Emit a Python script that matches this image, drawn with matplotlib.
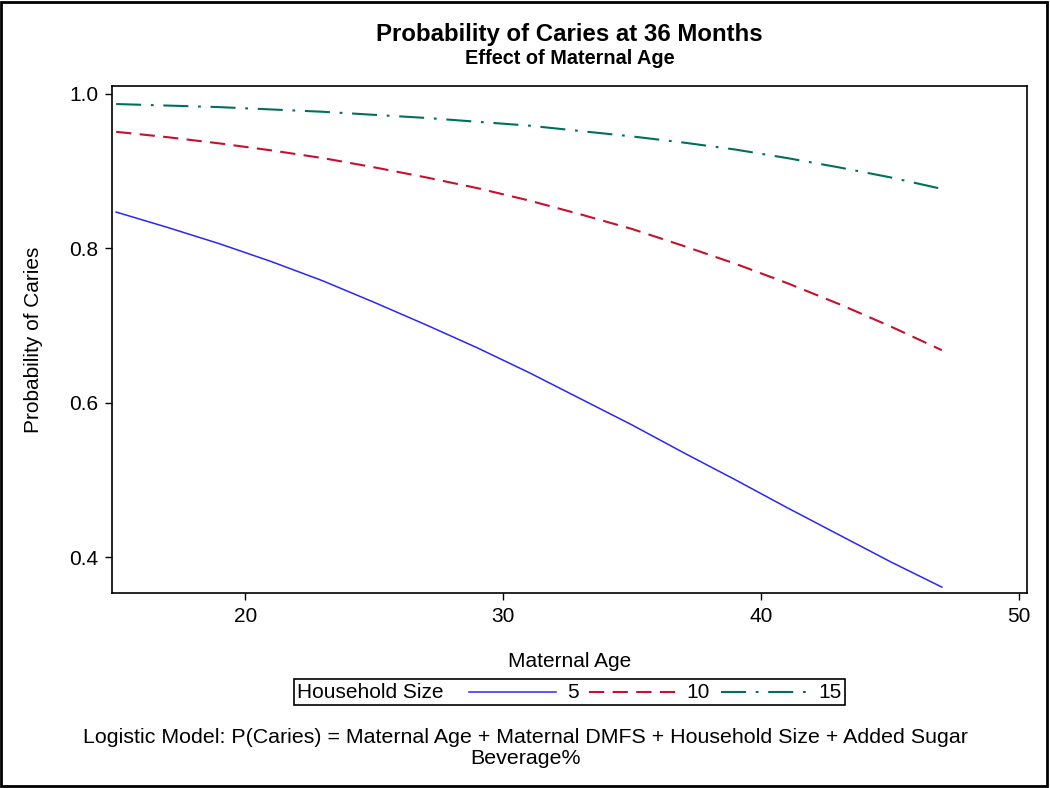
import matplotlib
matplotlib.use("Agg")
import matplotlib.pyplot as plt
from matplotlib.lines import Line2D
from matplotlib.patches import Rectangle
from matplotlib.offsetbox import (AnchoredOffsetbox, DrawingArea, HPacker,
                                  TextArea)

# values
ages = [15, 17, 19, 21, 23, 25, 27, 29, 31, 33, 35, 37, 39, 41, 43, 45, 47]
p_size5 = [0.847, 0.827, 0.806, 0.783, 0.758, 0.730, 0.701, 0.671, 0.639,
           0.605, 0.571, 0.535, 0.500, 0.464, 0.429, 0.394, 0.361]
p_size10 = [0.951, 0.944, 0.936, 0.927, 0.917, 0.905, 0.892, 0.878, 0.862,
            0.844, 0.825, 0.803, 0.780, 0.755, 0.728, 0.699, 0.668]
p_size15 = [0.987, 0.985, 0.983, 0.980, 0.977, 0.973, 0.969, 0.964, 0.959,
            0.952, 0.945, 0.937, 0.928, 0.917, 0.905, 0.892, 0.877]
size_labels = ["5", "10", "15"]
x_ticks = [20, 30, 40, 50]
y_ticks = [0.4, 0.6, 0.8, 1.0]

plt.rcParams['font.family'] = ['Liberation Sans', 'DejaVu Sans']
plt.rcParams['lines.scale_dashes'] = False

fs = 15

fig = plt.figure(figsize=(10.5, 7.88), dpi=100)
ax = fig.add_axes([0.1067, 0.2478, 0.8714, 0.6431])

styles = [
    dict(color='#2a25ff', lw=1.1, ls='-'),
    dict(color='#c8102e', lw=1.5, ls=(0, (11, 6))),
    dict(color='#00705e', lw=1.5, ls=(0, (18, 7, 2, 7))),
]
series = [p_size5, p_size10, p_size15]
for vals, st in zip(series, styles):
    ax.plot(ages, vals, **st)

ax.set_xlim(14.84, 50.3)
ax.set_ylim(0.3537, 1.0104)
ax.set_xticks(x_ticks)
ax.set_xticklabels([str(t) for t in x_ticks])
ax.set_yticks(y_ticks)
ax.set_yticklabels(["%.1f" % t for t in y_ticks])
ax.tick_params(direction='out', length=5, width=1, labelsize=fs, pad=5,
               top=False, right=False)
for sp in ax.spines.values():
    sp.set_linewidth(1.2)

ax.set_xlabel("Maternal Age", fontsize=fs, labelpad=19)
ax.set_ylabel("Probability of Caries", fontsize=fs, labelpad=19)

fig.text(0.5424, 1 - 34 / 788, "Probability of Caries at 36 Months",
         ha='center', va='center', fontsize=17.3, fontweight='bold')
fig.text(0.5424, 1 - 58 / 788, "Effect of Maternal Age",
         ha='center', va='center', fontsize=14.3, fontweight='bold')

# legend: label first, then line + value for each series (sizes in points)
items = [TextArea("Household Size", textprops=dict(fontsize=fs))]
items.append(DrawingArea(3, 8))
for lab, st in zip(size_labels, styles):
    da = DrawingArea(63, 8)
    da.add_artist(Line2D([0, 63], [4, 4], **st))
    items.append(da)
    items.append(TextArea(lab, textprops=dict(fontsize=fs)))
box = HPacker(children=items, align='center', pad=0, sep=7.5)
anch = AnchoredOffsetbox(loc='center', child=box, pad=0.25, borderpad=0,
                         frameon=True, bbox_to_anchor=(0.5424, 1 - 692 / 788),
                         bbox_transform=fig.transFigure)
anch.patch.set_edgecolor('black')
anch.patch.set_linewidth(1.2)
anch.patch.set_boxstyle('square', pad=0)
fig.add_artist(anch)

fig.text(0.5, 1 - 748 / 788,
         "Logistic Model: P(Caries) = Maternal Age + Maternal DMFS + Household Size + Added Sugar\nBeverage%",
         ha='center', va='center', fontsize=15.4, linespacing=1.12)

fig.patches.append(Rectangle((0.001, 0.002), 0.996, 0.996, transform=fig.transFigure,
                             fill=False, edgecolor='black', lw=2))

fig.savefig("out.png", dpi=100)
